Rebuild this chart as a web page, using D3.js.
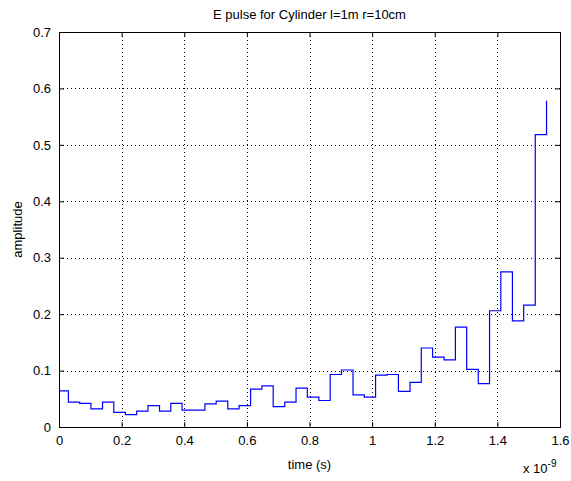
<!DOCTYPE html>
<html><head><meta charset="utf-8">
<script src="https://cdn.jsdelivr.net/npm/d3@7"></script>
<style>
body{margin:0;background:#fff;}
text{font-family:"Liberation Sans",Arial,Helvetica,sans-serif;}
</style></head>
<body><svg id="c" width="571" height="481"></svg>
<script>
// time in units of 1e-9 s (stairs breakpoints)
const times = [0, 0.030, 0.066, 0.102, 0.139, 0.175, 0.212, 0.248, 0.284, 0.321, 0.357,
  0.393, 0.430, 0.466, 0.502, 0.539, 0.575, 0.612, 0.648, 0.684, 0.721, 0.757,
  0.793, 0.830, 0.866, 0.902, 0.939, 0.975, 1.011, 1.048, 1.084, 1.121, 1.157,
  1.193, 1.230, 1.266, 1.302, 1.339, 1.375, 1.411, 1.448, 1.484, 1.521, 1.557];
const amplitude = [0.064, 0.044, 0.042, 0.032, 0.044, 0.026, 0.022, 0.028, 0.038, 0.028, 0.042,
  0.030, 0.030, 0.041, 0.046, 0.032, 0.038, 0.067, 0.073, 0.036, 0.044, 0.069,
  0.053, 0.047, 0.093, 0.101, 0.057, 0.053, 0.092, 0.093, 0.063, 0.079, 0.140,
  0.124, 0.119, 0.177, 0.102, 0.077, 0.206, 0.275, 0.188, 0.216, 0.518, 0.578];
const xTicks = [0, 0.2, 0.4, 0.6, 0.8, 1, 1.2, 1.4, 1.6];
const yTicks = [0, 0.1, 0.2, 0.3, 0.4, 0.5, 0.6, 0.7];
const title = "E pulse for Cylinder l=1m r=10cm";
const xLabel = "time (s)";
const yLabel = "amplitude";

const svg = d3.select("#c");
const L = 59, R = 560, T = 32, B = 427;
const x = d3.scaleLinear().domain([0, 1.6]).range([L, R]);
const y = d3.scaleLinear().domain([0, 0.7]).range([B, T]);
const fmt = d => (d === 0 || d === 1) ? String(d) : String(d);

// grid
const g = svg.append("g");
xTicks.forEach(t => {
  if (t > 0 && t < 1.6) g.append("line").attr("x1", Math.round(x(t)) + 0.5).attr("x2", Math.round(x(t)) + 0.5)
    .attr("y1", T).attr("y2", B).attr("stroke", "#000").attr("stroke-dasharray", "1,3").attr("stroke-width", 1);
});
yTicks.forEach(t => {
  if (t > 0 && t < 0.7) g.append("line").attr("y1", Math.round(y(t)) + 0.5).attr("y2", Math.round(y(t)) + 0.5)
    .attr("x1", L).attr("x2", R).attr("stroke", "#000").attr("stroke-dasharray", "1,3").attr("stroke-width", 1);
});

// data stairs
const pts = [];
for (let i = 0; i < times.length; i++) {
  pts.push([x(times[i]), y(amplitude[i])]);
  if (i < times.length - 1) pts.push([x(times[i + 1]), y(amplitude[i])]);
}
svg.append("path").attr("d", d3.line()(pts)).attr("fill", "none")
  .attr("stroke", "#0000ff").attr("stroke-width", 1.2);

// axes (box with inward ticks on all sides)
const axB = d3.axisBottom(x).tickValues(xTicks).tickSize(-5).tickPadding(9).tickFormat(fmt);
const axT = d3.axisTop(x).tickValues(xTicks).tickSize(-5).tickFormat("");
const axL = d3.axisLeft(y).tickValues(yTicks).tickSize(-5).tickPadding(8).tickFormat(fmt);
const axR = d3.axisRight(y).tickValues(yTicks).tickSize(-5).tickFormat("");
function style(sel) {
  sel.selectAll("path").attr("stroke", "#000");
  sel.selectAll("line").attr("stroke", "#000");
  sel.selectAll("text").attr("fill", "#000").style("font-size", "13px")
    .style("font-family", '"Liberation Sans",Arial,Helvetica,sans-serif');
}
svg.append("g").attr("transform", `translate(0,${B})`).call(axB).call(style);
svg.append("g").attr("transform", `translate(0,${T})`).call(axT).call(style);
svg.append("g").attr("transform", `translate(${L},0)`).call(axL).call(style);
svg.append("g").attr("transform", `translate(${R},0)`).call(axR).call(style);
svg.selectAll(".domain").attr("fill", "none");

// labels
svg.append("text").attr("x", (L + R) / 2).attr("y", 19).attr("text-anchor", "middle")
  .style("font-size", "13px").text(title);
svg.append("text").attr("x", (L + R) / 2).attr("y", 469).attr("text-anchor", "middle")
  .style("font-size", "13px").text(xLabel);
svg.append("text").attr("transform", `translate(22,${(T + B) / 2}) rotate(-90)`)
  .attr("text-anchor", "middle").style("font-size", "13px").text(yLabel);
const ex = svg.append("text").attr("x", 523).attr("y", 473).style("font-size", "13px");
ex.append("tspan").text("x 10");
ex.append("tspan").attr("dy", -6).style("font-size", "10px").text("-9");
</script></body></html>
